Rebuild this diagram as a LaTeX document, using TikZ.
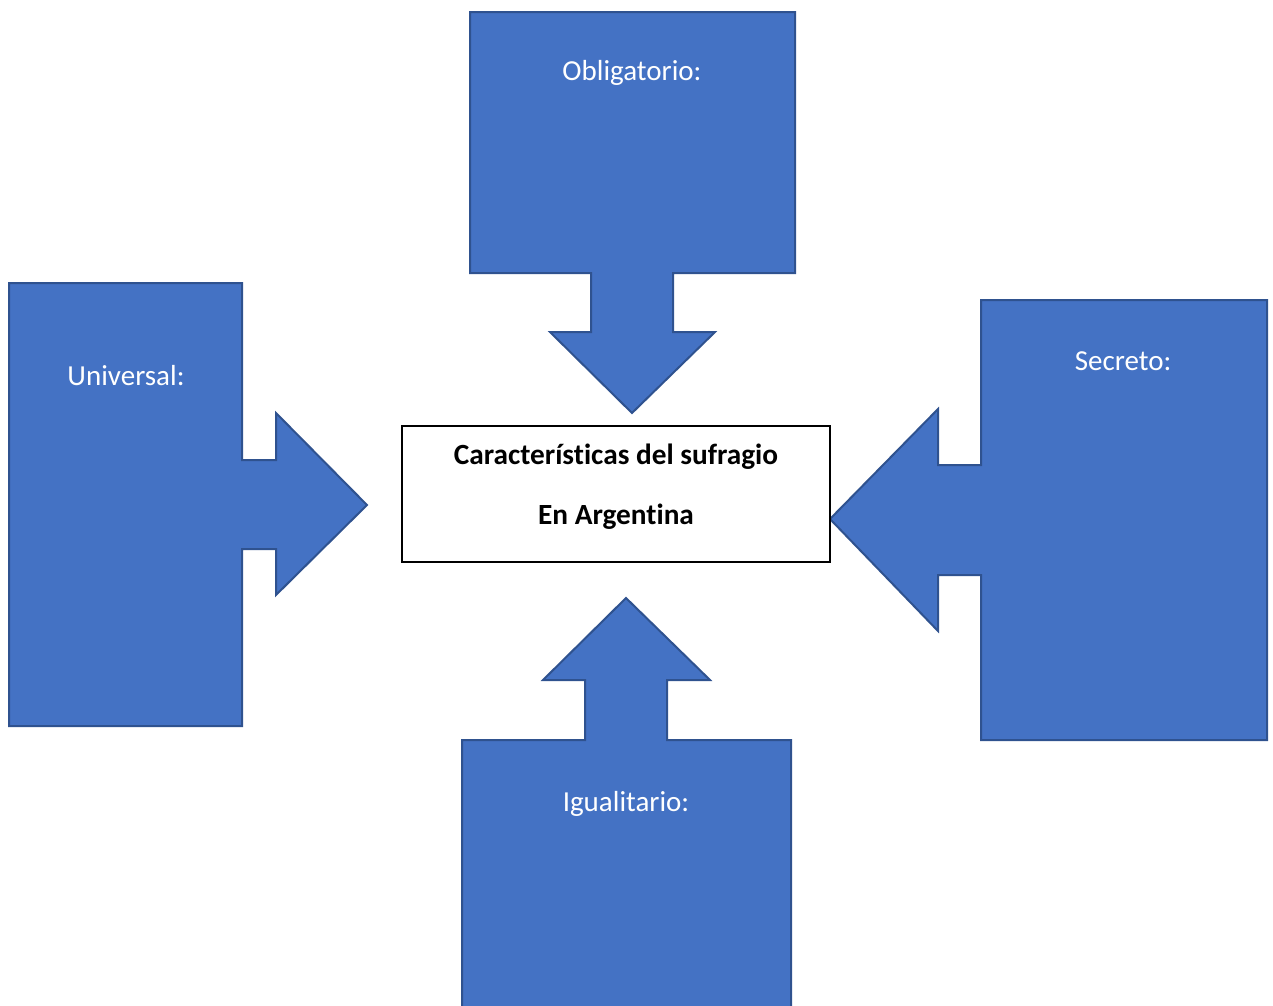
\documentclass[tikz,border=0pt]{standalone}
\usepackage{fontspec}
\setmainfont[Ligatures=NoCommon]{Carlito}
\definecolor{calloutfill}{HTML}{4472C4}
\definecolor{calloutline}{HTML}{2F528F}

\begin{document}
\begin{tikzpicture}[x=1pt, y=-1pt,
    callout/.style={fill=calloutfill, draw=calloutline, line width=2pt, line join=miter},
    label/.style={text=white, font=\fontsize{29}{35}\selectfont},
    centerbox/.style={draw=black, fill=white, line width=1.6pt, minimum width=428pt, minimum height=136pt},
    boxtext/.style={font=\fontsize{29.3}{35}\selectfont\bfseries}]
  \useasboundingbox (0,0) rectangle (1273,1005);

  % callouts pointing to the centre
  \draw[callout] (470,12) -- (795,12) -- (795,273) -- (673,273) -- (673,332) -- (715,332)
    -- (632,413) -- (550,332) -- (591,332) -- (591,273) -- (470,273) -- cycle;
  \draw[callout] (9,283) -- (242,283) -- (242,460) -- (276,460) -- (276,413) -- (367,505)
    -- (276,595) -- (276,549) -- (242,549) -- (242,726) -- (9,726) -- cycle;
  \draw[callout] (981,300) -- (1267,300) -- (1267,740) -- (981,740) -- (981,575) -- (938,575)
    -- (938,631) -- (830,519) -- (938,409) -- (938,465) -- (981,465) -- cycle;
  \draw[callout] (462,1020) -- (462,740) -- (585,740) -- (585,680) -- (543,680) -- (626,598)
    -- (710,680) -- (667,680) -- (667,740) -- (791,740) -- (791,1020) -- cycle;

  \node[label] (obligatorio) at (632,73) {Obligatorio:};
  \node[label] (universal) at (126,376) {Universal:};
  \node[label] (secreto) at (1123,361) {Secreto:};
  \node[label] (igualitario) at (626,804) {Igualitario:};

  % centre box
  \node[centerbox] (box) at (616,494) {};
  \node[boxtext] (title) at (616,457) {Características del sufragio};
  \node[boxtext] (country) at (616,517) {En Argentina};
\end{tikzpicture}
\end{document}
